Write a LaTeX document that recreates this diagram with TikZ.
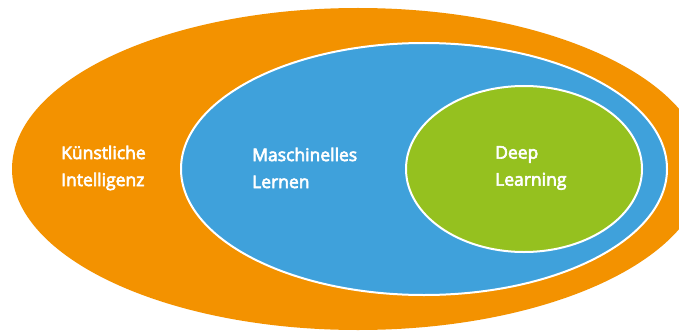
\documentclass[tikz,border=0pt]{standalone}
\usepackage{fontspec}
\setmainfont{Open Sans}[FakeBold=3.5]
\usetikzlibrary{shapes.geometric}
\definecolor{kiorange}{HTML}{F39200}
\definecolor{mlblue}{HTML}{3FA1DB}
\definecolor{dlgreen}{HTML}{95C11F}
\begin{document}
\begin{tikzpicture}[x=1pt,y=-1pt,
  zone/.style={ellipse, inner sep=0pt, outer sep=0pt},
  lbl/.style={anchor=west, align=left, text=white, inner sep=0pt,
    font=\fontsize{17.5}{27}\selectfont}]
\useasboundingbox (0,0) rectangle (679,334);
\clip (0,0) rectangle (679,334);
\fill[white] (0,0) rectangle (679,334);
\node[zone, fill=kiorange, minimum width=692pt, minimum height=322pt] (ki) at (358,169) {};
\node[zone, fill=mlblue, draw=white, line width=2pt, minimum width=486pt, minimum height=252pt] (ml) at (424,169) {};
\node[zone, fill=dlgreen, draw=white, line width=2pt, minimum width=236pt, minimum height=166pt] (dl) at (524,169) {};
\node[lbl] (kit) at (61,168) {Künstliche\\Intelligenz};
\node[lbl] (mlt) at (252,168) {Maschinelles\\Lernen};
\node[lbl] (dlt) at (495,168) {Deep\\Learning};
\end{tikzpicture}
\end{document}
